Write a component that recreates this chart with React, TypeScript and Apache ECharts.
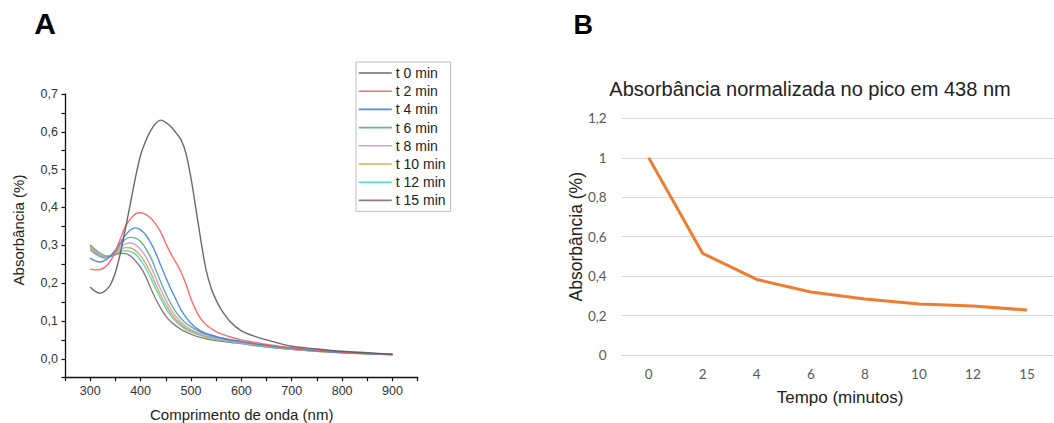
import React, { useEffect, useRef } from "react";
import * as echarts from "echarts";

// ---------- Panel A data ----------
const wavelengths = [300, 310, 320, 330, 340, 350, 360, 370, 380, 390, 400, 410, 420, 430, 440, 450, 460, 470, 480, 490, 500, 510, 520, 530, 540, 550, 560, 580, 600, 625, 650, 700, 750, 800, 850, 900];
const seriesNames = ["t 0 min", "t 2 min", "t 4 min", "t 6 min", "t 8 min", "t 10 min", "t 12 min", "t 15 min"];
const seriesColors = ["#5a5a5a", "#ff5a5a", "#3f7fe6", "#4caf7a", "#c693ee", "#d8a62a", "#3fd6d6", "#8c6a6a"];

const t0 = [0.190, 0.178, 0.173, 0.180, 0.195, 0.228, 0.280, 0.345, 0.412, 0.480, 0.538, 0.575, 0.603, 0.622, 0.631, 0.625, 0.614, 0.598, 0.580, 0.543, 0.478, 0.395, 0.310, 0.235, 0.187, 0.155, 0.130, 0.095, 0.074, 0.060, 0.050, 0.033, 0.026, 0.020, 0.016, 0.012];
const t2 = [0.237, 0.235, 0.236, 0.243, 0.258, 0.284, 0.318, 0.350, 0.370, 0.383, 0.386, 0.382, 0.372, 0.356, 0.335, 0.305, 0.278, 0.255, 0.230, 0.198, 0.158, 0.128, 0.105, 0.090, 0.080, 0.072, 0.066, 0.057, 0.050, 0.044, 0.038, 0.029, 0.023, 0.018, 0.015, 0.012];
const t4 = [0.266, 0.259, 0.256, 0.261, 0.272, 0.287, 0.308, 0.327, 0.341, 0.346, 0.341, 0.328, 0.307, 0.280, 0.247, 0.215, 0.185, 0.157, 0.130, 0.110, 0.094, 0.082, 0.073, 0.067, 0.063, 0.059, 0.055, 0.050, 0.046, 0.040, 0.036, 0.028, 0.022, 0.017, 0.014, 0.011];
const t6 = [0.288, 0.278, 0.270, 0.266, 0.271, 0.284, 0.302, 0.316, 0.321, 0.319, 0.310, 0.292, 0.268, 0.236, 0.203, 0.172, 0.146, 0.124, 0.107, 0.094, 0.085, 0.077, 0.070, 0.065, 0.061, 0.058, 0.055, 0.049, 0.045, 0.040, 0.035, 0.027, 0.021, 0.017, 0.014, 0.011];
const t8 = [0.293, 0.282, 0.274, 0.269, 0.272, 0.282, 0.295, 0.304, 0.306, 0.301, 0.289, 0.270, 0.245, 0.214, 0.183, 0.155, 0.131, 0.112, 0.097, 0.086, 0.078, 0.071, 0.066, 0.062, 0.058, 0.055, 0.052, 0.047, 0.043, 0.038, 0.034, 0.026, 0.021, 0.017, 0.014, 0.011];
const t10 = [0.296, 0.285, 0.276, 0.270, 0.271, 0.279, 0.289, 0.294, 0.293, 0.286, 0.272, 0.252, 0.227, 0.197, 0.168, 0.143, 0.121, 0.104, 0.091, 0.081, 0.074, 0.068, 0.063, 0.059, 0.056, 0.053, 0.050, 0.046, 0.042, 0.037, 0.033, 0.026, 0.020, 0.016, 0.013, 0.011];
const t12 = [0.299, 0.287, 0.278, 0.271, 0.271, 0.277, 0.284, 0.286, 0.284, 0.276, 0.261, 0.240, 0.214, 0.185, 0.158, 0.134, 0.114, 0.099, 0.087, 0.078, 0.071, 0.066, 0.061, 0.057, 0.054, 0.051, 0.049, 0.045, 0.041, 0.036, 0.032, 0.025, 0.020, 0.016, 0.013, 0.011];
const t15 = [0.301, 0.289, 0.279, 0.272, 0.271, 0.275, 0.279, 0.278, 0.272, 0.258, 0.242, 0.218, 0.187, 0.158, 0.134, 0.113, 0.098, 0.087, 0.078, 0.071, 0.065, 0.060, 0.056, 0.053, 0.050, 0.048, 0.046, 0.043, 0.040, 0.035, 0.031, 0.025, 0.020, 0.016, 0.013, 0.011];
const spectra = [t0, t2, t4, t6, t8, t10, t12, t15];

// ---------- Panel B data ----------
const timeCategories = ["0", "2", "4", "6", "8", "10", "12", "15"];
const normalizedPeak = [1.0, 0.515, 0.383, 0.319, 0.284, 0.258, 0.248, 0.228];

const FONT_A = "'Liberation Sans', Arial, sans-serif";
const FONT_B = "Lato, 'Open Sans', sans-serif";

export default function App() {
  const ref = useRef<HTMLDivElement>(null);

  useEffect(() => {
    if (!ref.current) return;
    const chart = echarts.init(ref.current, undefined, { renderer: "svg" });

    const fmtA = (v: number) => {
      const t = Math.round(v * 100);
      if (t < 0 || t % 10 !== 0) return "";
      return (t / 100).toFixed(1).replace(".", ",");
    };
    const fmtB = (v: number) => {
      const r = Math.round(v * 10) / 10;
      return String(r).replace(".", ",");
    };

    const option: any = {
      animation: false,
      backgroundColor: "#ffffff",
      grid: [
        { left: 65, top: 94, width: 352.7, height: 283.7 },
        { left: 621.7, top: 118.3, width: 436.8, height: 236.7 },
      ],
      legend: {
        data: seriesNames,
        orient: "vertical",
        left: 356,
        top: 62,
        padding: [4, 5, 4, 2],
        itemWidth: 33,
        itemHeight: 14,
        itemGap: 4.2,
        itemStyle: { opacity: 0 },
        lineStyle: { width: 1.6 },
        borderColor: "#bdbdbd",
        borderWidth: 1,
        textStyle: { fontFamily: FONT_A, fontSize: 14, color: "#222", padding: [0, 0, 0, -1] },
      },
      xAxis: [
        {
          type: "value",
          gridIndex: 0,
          min: 250,
          max: 950,
          interval: 50,
          axisLine: { show: true, onZero: false, lineStyle: { color: "#111", width: 1.3 } },
          axisTick: { show: true, length: 3.5, inside: false, lineStyle: { color: "#111", width: 1.2 } },
          axisLabel: {
            margin: 7,
            fontFamily: FONT_A,
            fontSize: 12.5,
            color: "#333",
            formatter: (v: number) => (Math.round(v) % 100 === 0 && v >= 300 && v <= 900 ? String(Math.round(v)) : ""),
          },
          splitLine: { show: false },
        },
        {
          type: "category",
          gridIndex: 1,
          data: timeCategories,
          boundaryGap: true,
          axisLine: { show: true, lineStyle: { color: "#d9d9d9", width: 1 } },
          axisTick: { show: false },
          axisLabel: { margin: 12, fontFamily: FONT_B, fontSize: 13.5, color: "#595959" },
        },
      ],
      yAxis: [
        {
          type: "value",
          gridIndex: 0,
          min: -0.05,
          max: 0.7,
          interval: 0.05,
          axisLine: { show: true, onZero: false, lineStyle: { color: "#111", width: 1.3 } },
          axisTick: { show: true, length: 3.5, lineStyle: { color: "#111", width: 1.2 } },
          axisLabel: { margin: 7, fontFamily: FONT_A, fontSize: 12.5, color: "#333", formatter: fmtA },
          splitLine: { show: false },
        },
        {
          type: "value",
          gridIndex: 1,
          min: 0,
          max: 1.2,
          interval: 0.2,
          axisLine: { show: false },
          axisTick: { show: false },
          axisLabel: { margin: 15, fontFamily: FONT_B, fontSize: 13.5, color: "#595959", formatter: fmtB },
          splitLine: { show: true, lineStyle: { color: "#d9d9d9", width: 1 } },
        },
      ],
      series: [
        ...spectra.map((arr, i) => ({
          name: seriesNames[i],
          type: "line",
          xAxisIndex: 0,
          yAxisIndex: 0,
          data: wavelengths.map((w, j) => [w, arr[j]]),
          symbol: "none",
          smooth: 0.3,
          color: seriesColors[i],
          lineStyle: { color: seriesColors[i], width: 1.4, opacity: 0.9 },
          z: 10 - i,
        })),
        {
          name: "Absorbância normalizada",
          type: "line",
          xAxisIndex: 1,
          yAxisIndex: 1,
          data: normalizedPeak,
          symbol: "none",
          color: "#ED7D31",
          lineStyle: { color: "#ED7D31", width: 3 },
        },
      ],
      graphic: [
        { type: "text", x: 45, y: 23.5, style: { text: "A", font: `bold 30px ${FONT_A}`, fill: "#000", align: "center", verticalAlign: "middle" } },
        { type: "text", x: 583.3, y: 24.7, style: { text: "B", font: `bold 27px ${FONT_A}`, fill: "#000", align: "center", verticalAlign: "middle" } },
        { type: "text", x: 18.8, y: 230, rotation: Math.PI / 2, style: { text: "Absorbância (%)", font: `15px ${FONT_A}`, fill: "#222", align: "center", verticalAlign: "middle" } },
        { type: "text", x: 241.7, y: 414, style: { text: "Comprimento de onda (nm)", font: `15px ${FONT_A}`, fill: "#222", align: "center", verticalAlign: "middle" } },
        { type: "text", x: 810, y: 89.2, style: { text: "Absorbância normalizada no pico em 438 nm", font: `20px ${FONT_A}`, fill: "#222", align: "center", verticalAlign: "middle" } },
        { type: "text", x: 575.5, y: 236.7, rotation: Math.PI / 2, style: { text: "Absorbância (%)", font: `17.5px ${FONT_A}`, fill: "#222", align: "center", verticalAlign: "middle" } },
        { type: "text", x: 840, y: 397.7, style: { text: "Tempo (minutos)", font: `17px ${FONT_A}`, fill: "#222", align: "center", verticalAlign: "middle" } },
      ],
    };

    chart.setOption(option);
    return () => chart.dispose();
  }, []);

  return (
    <div
      ref={ref}
      style={{ position: "absolute", left: 0, top: 0, width: 1054, height: 423, background: "#fff" }}
    />
  );
}
